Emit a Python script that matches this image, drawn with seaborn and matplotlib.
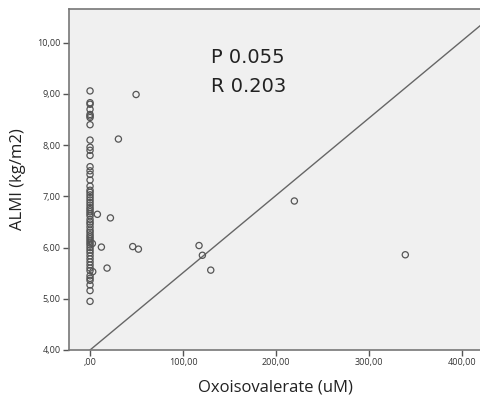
import matplotlib
matplotlib.use("Agg")
import matplotlib.pyplot as plt
import matplotlib.ticker as mticker
import seaborn as sns
import pandas as pd

# Data
column_almi = [9.06, 8.83, 8.80, 8.70, 8.60, 8.57, 8.54, 8.40, 8.10, 7.96, 7.90, 7.80,
               7.58, 7.50, 7.43, 7.32, 7.20, 7.12, 7.08, 7.03, 6.98, 6.93, 6.88, 6.83,
               6.78, 6.74, 6.70, 6.66, 6.62, 6.55, 6.50, 6.46, 6.40, 6.34, 6.30, 6.25,
               6.21, 6.17, 6.13, 6.09, 6.05, 6.00, 5.95, 5.90, 5.84, 5.78, 5.72, 5.66,
               5.60, 5.55, 5.45, 5.40, 5.36, 5.27, 5.16, 4.95]
column_oxo = [0.0] * len(column_almi)

other_oxo = [49.5, 30.5, 7.9, 21.9, 12.2, 45.9, 52.0, 18.3, 2.9, 2.5,
             117.2, 120.8, 129.8, 219.7, 339.0]
other_almi = [8.99, 8.12, 6.65, 6.58, 6.01, 6.02, 5.97, 5.60, 5.53, 6.08,
              6.04, 5.85, 5.56, 6.91, 5.86]

fit_intercept = 4.0
fit_slope = 0.0151

x_ticks = [0, 100, 200, 300, 400]
y_ticks = [4, 5, 6, 7, 8, 9, 10]
annot_lines = ["P 0.055", "R 0.203"]

df = pd.DataFrame({
    "Oxoisovalerate (uM)": column_oxo + other_oxo,
    "ALMI (kg/m2)": column_almi + other_almi,
})

sns.set_theme(style="white")
plt.rcParams["font.family"] = ["Open Sans", "DejaVu Sans"]

fig = plt.figure(figsize=(4.81, 4.00), dpi=100)
ax = fig.add_axes([0.1435, 0.125, 0.8565, 0.8525])
ax.set_facecolor("#f0f0f0")

sns.scatterplot(data=df, x="Oxoisovalerate (uM)", y="ALMI (kg/m2)", ax=ax,
                marker="o", s=20, facecolor="none", edgecolor="#555555",
                linewidth=0.9, zorder=3)

ax.axline((0, fit_intercept), slope=fit_slope, color="#666666", lw=1.0, zorder=2)

ax.set_xlim(-22.6, 420.4)
ax.set_ylim(4.0, 10.66)
ax.set_xticks(x_ticks)
ax.set_yticks(y_ticks)

def comma_fmt(v, pos):
    s = f"{v:.2f}".replace(".", ",")
    if s.startswith("0,"):
        s = s[1:]
    return s

ax.xaxis.set_major_formatter(mticker.FuncFormatter(comma_fmt))
ax.yaxis.set_major_formatter(mticker.FuncFormatter(comma_fmt))
ax.tick_params(axis="both", direction="out", length=4, width=1, color="#555555",
               labelsize=6.5, labelcolor="#333333", pad=2)
ax.tick_params(axis="x", bottom=True)
ax.tick_params(axis="y", left=True)

for side in ["left", "bottom", "top"]:
    ax.spines[side].set_color("#777777")
    ax.spines[side].set_linewidth(1.2)
ax.spines["right"].set_visible(False)

ax.set_xlabel("Oxoisovalerate (uM)", fontsize=12, color="#222222", labelpad=9)
ax.set_ylabel("ALMI (kg/m2)", fontsize=12, color="#222222", labelpad=8)

ax.text(0.345, 0.842, annot_lines[0], transform=ax.transAxes, fontsize=14,
        family=["DejaVu Sans"], color="#222222", va="baseline")
ax.text(0.345, 0.756, annot_lines[1], transform=ax.transAxes, fontsize=14,
        family=["DejaVu Sans"], color="#222222", va="baseline")

fig.savefig("out.png", dpi=100)
